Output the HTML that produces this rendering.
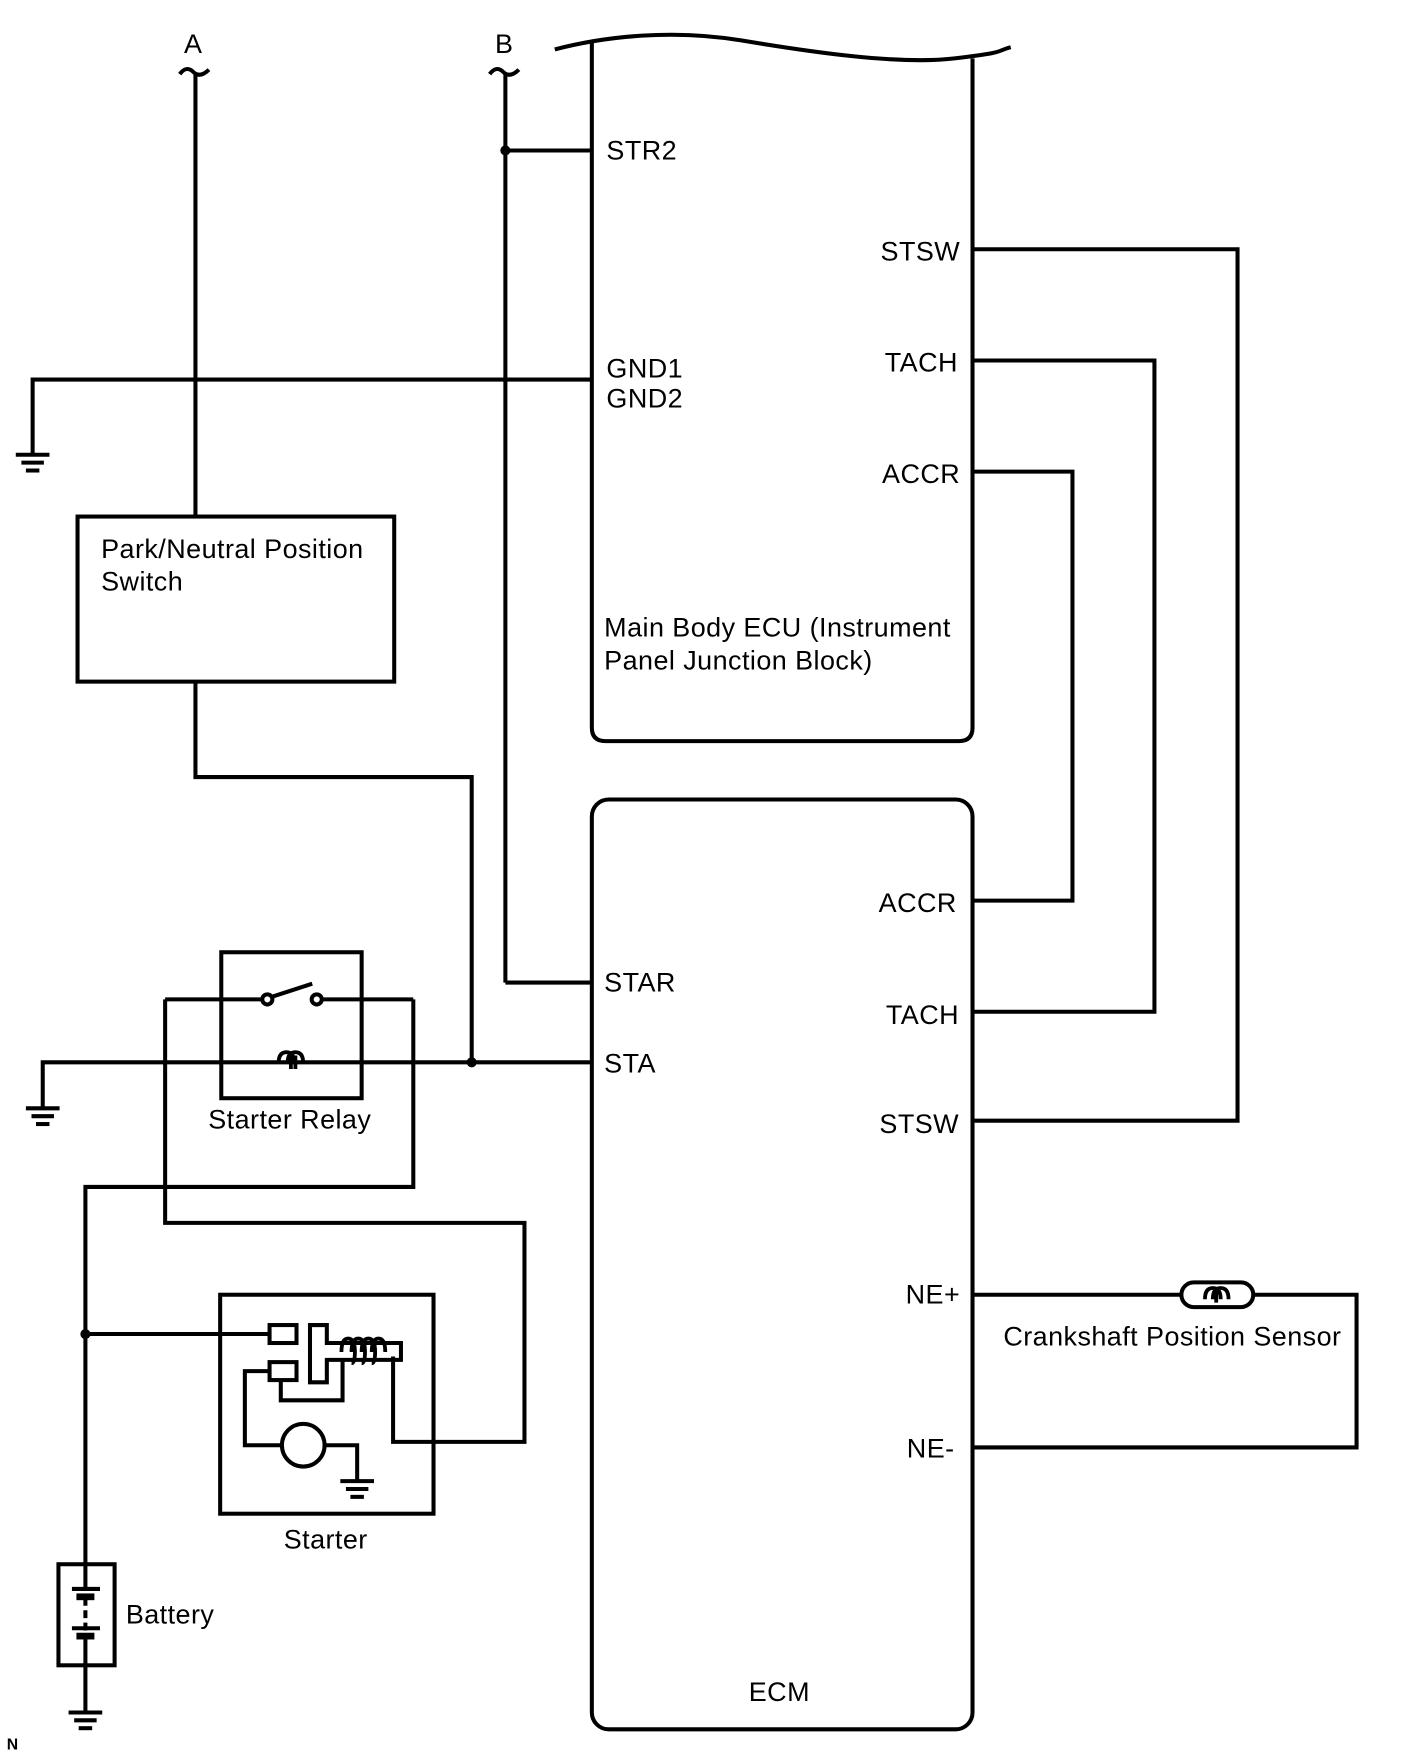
<!DOCTYPE html>
<html><head><meta charset="utf-8"><style>
html,body{margin:0;padding:0;background:#fff}
svg{display:block}
text{font-family:"Liberation Sans",sans-serif;font-size:24px;letter-spacing:0.4px;fill:#000}
</style></head><body>
<svg width="1424" height="1763" viewBox="0 0 1268 1570" xmlns="http://www.w3.org/2000/svg">
<g fill="none" stroke="#000" stroke-width="3.6">
<path d="M160,66 q6,-8 12,-2 q6,6 14,-2"/>
<line x1="174" y1="66" x2="174" y2="460"/>
<path d="M436,66 q6,-8 12,-2 q6,6 14,-2"/>
<line x1="450" y1="66" x2="450" y2="875"/>
<line x1="450" y1="875" x2="527" y2="875"/>
<line x1="450" y1="134" x2="527" y2="134"/>
<path d="M494,44 C540,32 600,26 660,36 S800,58 850,52 S885,46 900,42"/>
<path d="M527,38 V648 Q527,660 539,660 H854 Q866,660 866,648 V52"/>
<polyline points="527,338 29,338 29,404"/>
<line x1="14" y1="405" x2="44" y2="405"/>
<line x1="19" y1="412" x2="39" y2="412"/>
<line x1="23" y1="419" x2="35" y2="419"/>
<polyline points="866,222 1102,222 1102,998 866,998"/>
<polyline points="866,321 1028,321 1028,901 866,901"/>
<polyline points="866,420 955,420 955,802 866,802"/>
<rect x="69" y="460" width="282" height="147"/>
<polyline points="174,607 174,692 420,692 420,946"/>
<rect x="527" y="712" width="339" height="828" rx="15"/>
<polyline points="527,946 38,946 38,986"/>
<line x1="23" y1="987" x2="53" y2="987"/>
<line x1="28" y1="994" x2="48" y2="994"/>
<line x1="32" y1="1001" x2="44" y2="1001"/>
<rect x="197" y="848" width="125" height="130"/>
<line x1="147" y1="890" x2="234" y2="890"/>
<line x1="285" y1="890" x2="368" y2="890"/>
<circle cx="238" cy="890" r="4.5"/>
<circle cx="282" cy="890" r="4.5"/>
<line x1="241" y1="888" x2="278" y2="876"/>
<polyline points="368,890 368,1057 76,1057 76,1393"/>
<polyline points="147,890 147,1089 467,1089 467,1284 350,1284 350,1208"/>
<rect x="196" y="1153" width="190" height="195"/>
<line x1="76" y1="1188" x2="240" y2="1188"/>
<rect x="240" y="1180" width="24" height="16"/>
<rect x="240" y="1213" width="24" height="16"/>
<path d="M276,1180 H291 V1196 H357 V1211 H291 V1231 H276 Z"/>
<polyline points="250,1229 250,1247 305,1247 305,1211"/>
<polyline points="240,1221 218,1221 218,1287 251,1287"/>
<circle cx="270" cy="1287" r="19"/>
<polyline points="289,1287 318,1287 318,1318"/>
<line x1="303" y1="1319" x2="333" y2="1319"/>
<line x1="308" y1="1326" x2="328" y2="1326"/>
<line x1="312" y1="1333" x2="324" y2="1333"/>
<rect x="52" y="1393" width="50" height="90"/>
<line x1="76" y1="1393" x2="76" y2="1414"/>
<line x1="64" y1="1415" x2="89" y2="1415"/>
<line x1="76" y1="1423" x2="76" y2="1460" stroke-dasharray="7,4"/>
<line x1="64" y1="1450" x2="89" y2="1450"/>
<line x1="76" y1="1460" x2="76" y2="1524"/>
<line x1="61" y1="1525" x2="91" y2="1525"/>
<line x1="66" y1="1532" x2="86" y2="1532"/>
<line x1="70" y1="1539" x2="82" y2="1539"/>
<polyline points="866,1153 1052,1153"/>
<polyline points="1116,1153 1208,1153 1208,1289 866,1289"/>
<rect x="1052" y="1142" width="64" height="22" rx="11"/>
</g>
<g fill="none" stroke="#000" stroke-width="3.4">
<path d="M248,947 q0,-10 7,-10 q7,0 7,10 M256,947 q0,-10 7,-10 q7,0 7,10 M259,952 v-12 M263,952 v-12"/>
<path d="M304,1204 q0,-12 6,-12 q6,0 6,12 q0,10 -3,10 M313,1204 q0,-12 6,-12 q6,0 6,12 q0,10 -3,10 M322,1204 q0,-12 6,-12 q6,0 6,12 q0,10 -3,10 M331,1204 q0,-12 6,-12 q6,0 6,12"/>
<path d="M1073,1157 q0,-10 7,-10 q7,0 7,10 M1080,1157 q0,-10 7,-10 q7,0 7,10 M1083,1160 v-10"/>
</g>
<g fill="#000">
<circle cx="450" cy="134" r="4.5"/>
<circle cx="420" cy="946" r="4.5"/>
<circle cx="76" cy="1188" r="4.5"/>
<rect x="68" y="1419" width="16" height="6"/>
<rect x="68" y="1454" width="16" height="6"/>
</g>
<text x="172" y="47" text-anchor="middle">A</text>
<text x="449" y="47" text-anchor="middle">B</text>
<text x="540" y="142">STR2</text>
<text x="855" y="232" text-anchor="end">STSW</text>
<text x="853" y="331" text-anchor="end">TACH</text>
<text x="855" y="430" text-anchor="end">ACCR</text>
<text x="540" y="336">GND1</text>
<text x="540" y="363">GND2</text>
<text x="538" y="567">Main Body ECU (Instrument</text>
<text x="538" y="596">Panel Junction Block)</text>
<text x="90" y="497">Park/Neutral Position</text>
<text x="90" y="526">Switch</text>
<text x="852" y="812" text-anchor="end">ACCR</text>
<text x="538" y="883">STAR</text>
<text x="854" y="912" text-anchor="end">TACH</text>
<text x="538" y="955">STA</text>
<text x="854" y="1009" text-anchor="end">STSW</text>
<text x="855" y="1161" text-anchor="end">NE+</text>
<text x="850" y="1298" text-anchor="end">NE-</text>
<text x="694" y="1515" text-anchor="middle">ECM</text>
<text x="258" y="1005" text-anchor="middle">Starter Relay</text>
<text x="290" y="1379" text-anchor="middle">Starter</text>
<text x="112" y="1446">Battery</text>
<text x="1044" y="1198" text-anchor="middle">Crankshaft Position Sensor</text>
<text x="6" y="1558" style="font-size:14px;font-weight:bold;letter-spacing:0">N</text>
</svg>
</body></html>
